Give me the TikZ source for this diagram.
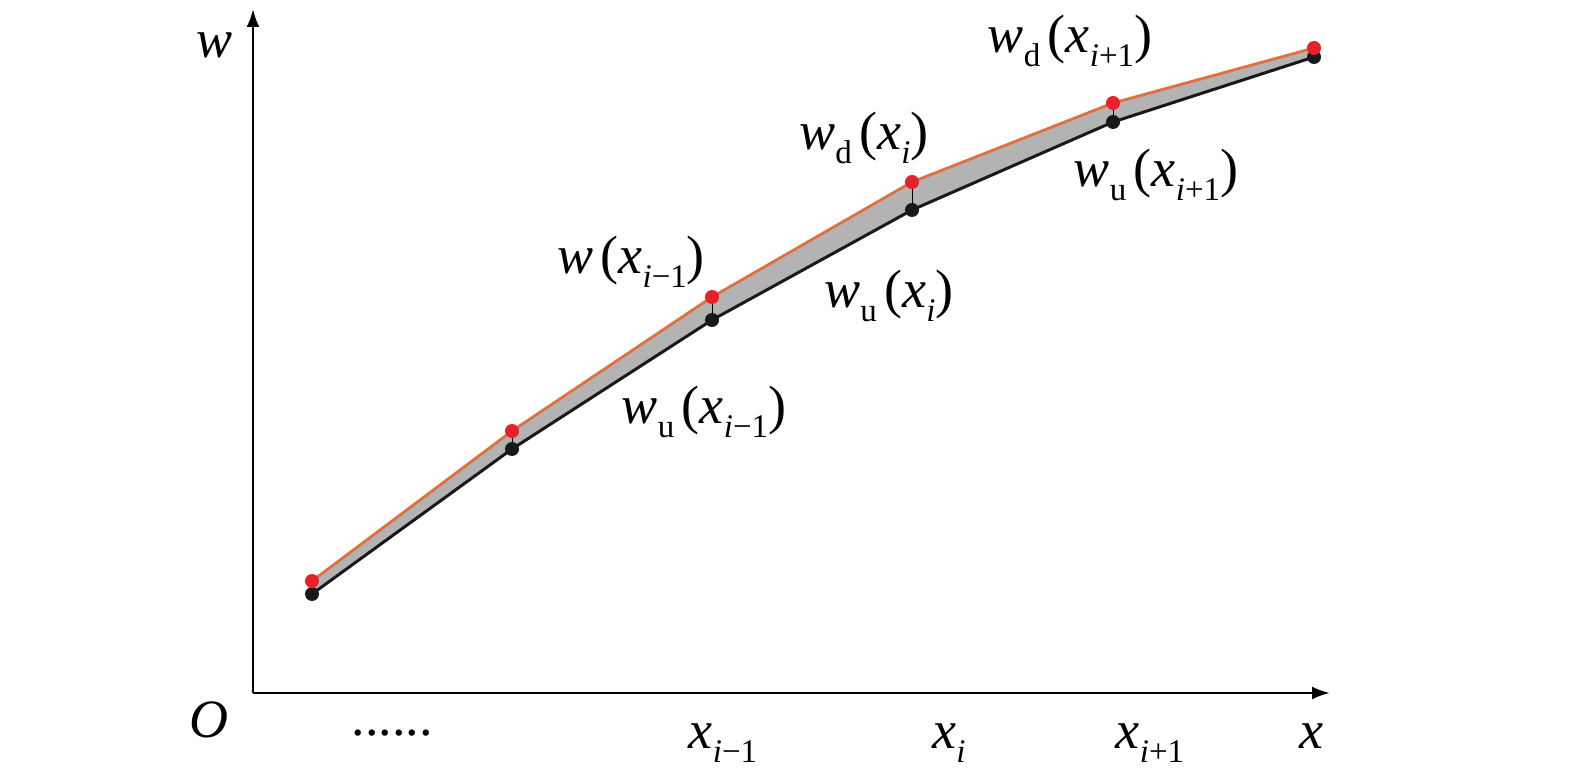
\documentclass[tikz,border=0pt]{standalone}
\usepackage{fontspec}
\setmainfont{Liberation Serif}
\usetikzlibrary{arrows.meta}
\definecolor{bandgray}{HTML}{B3B3B3}
\definecolor{upline}{HTML}{E0703C}
\definecolor{reddot}{HTML}{E8202A}
\newcommand{\lsub}[1]{\raisebox{-0.25em}{\fontsize{33}{33}\selectfont #1}}
\newcommand{\mylab}[2]{\textit{w}\lsub{#1}\hspace{0.14em}(\textit{x}\lsub{#2})}
\begin{document}
\begin{tikzpicture}[x=1pt,y=-1pt,
  lab/.style={font=\fontsize{54}{58}\selectfont, inner sep=0pt},
  rdot/.style={circle, fill=reddot, minimum size=14pt, inner sep=0pt},
  bdot/.style={circle, fill=black!90, minimum size=14pt, inner sep=0pt},
  axisline/.style={line width=2.6pt, -{Latex[length=18pt,width=13pt]}},
  lowline/.style={line width=3pt, black!90},
  upperline/.style={line width=2.8pt, upline},
  tick/.style={line width=0.8pt}]
\useasboundingbox (0,0) rectangle (1575,783);
% axes
\coordinate (O) at (253,693);
\coordinate (xend) at (1330,693);
\coordinate (yend) at (253,9);
\draw[axisline] (O) -- (xend);
\draw[axisline] (O) -- (yend);
% points
\coordinate (r1) at (312,581);
\coordinate (r2) at (512,431);
\coordinate (r3) at (712,297);
\coordinate (r4) at (912,182);
\coordinate (r5) at (1113,103);
\coordinate (r6) at (1314,48);
\coordinate (b1) at (312,594);
\coordinate (b2) at (512,449);
\coordinate (b3) at (712,320);
\coordinate (b4) at (912,210);
\coordinate (b5) at (1113,122);
\coordinate (b6) at (1314,57);
% band
\fill[bandgray] (r1) -- (r2) -- (r3) -- (r4) -- (r5) -- (r6) -- (b6) -- (b5) -- (b4) -- (b3) -- (b2) -- (b1) -- cycle;
\draw[lowline] (b1) -- (b2) -- (b3) -- (b4) -- (b5) -- (b6);
\draw[upperline] (r1) -- (r2) -- (r3) -- (r4) -- (r5) -- (r6);
\foreach \i in {1,...,6} {\draw[tick] (r\i) -- (b\i);}
\foreach \i in {1,...,6} {\node[bdot] (bd\i) at (b\i) {};}
\foreach \i in {1,...,6} {\node[rdot] (rd\i) at (r\i) {};}
% axis labels
\node[lab] (lw) at (215,45) {\textit{w}};
\node[lab] (lO) at (209,720) {\textit{O}};
\node[lab] (ldots) at (392,733) {......};
\node[lab] (lx1) at (723,743) {\textit{x}\lsub{\textit{i}−1}};
\node[lab] (lx2) at (949,743) {\textit{x}\lsub{\textit{i}}};
\node[lab] (lx3) at (1150,743) {\textit{x}\lsub{\textit{i}+1}};
\node[lab] (lx) at (1311,736) {\textit{x}};
% curve labels
\node[lab] (l1) at (1070,41) {\mylab{d}{\textit{i}+1}};
\node[lab] (l2) at (864,138) {\mylab{d}{\textit{i}}};
\node[lab] (l3) at (1156,175) {\mylab{u}{\textit{i}+1}};
\node[lab] (l4) at (631,262) {\textit{w}\hspace{0.14em}(\textit{x}\lsub{\textit{i}−1})};
\node[lab] (l5) at (889,296) {\mylab{u}{\textit{i}}};
\node[lab] (l6) at (704,412) {\mylab{u}{\textit{i}−1}};
\end{tikzpicture}
\end{document}
